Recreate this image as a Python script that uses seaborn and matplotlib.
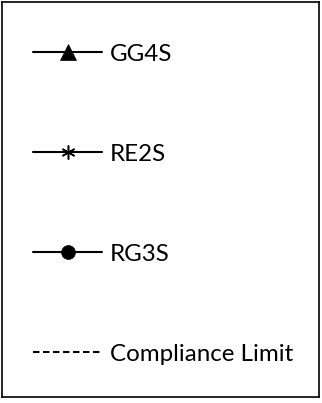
import matplotlib.pyplot as plt
import seaborn as sns
from matplotlib.lines import Line2D

# legend entries
labels = ['GG4S', 'RE2S', 'RG3S', 'Compliance Limit']
markers = ['^', (6, 2, 0), 'o', None]
marker_sizes = [11, 10, 10, 0]
linestyles = ['-', '-', '-', '--']

sns.set_style('white')
plt.rcParams['font.family'] = ['Lato', 'DejaVu Sans']

fig = plt.figure(figsize=(3.22, 4.03), dpi=100)
# empty axes whose spines act as the box around the legend
ax = fig.add_axes([0.0047, 0.0149, 0.986, 0.981])
ax.set_xticks([])
ax.set_yticks([])
for sp in ax.spines.values():
    sp.set_color('black')
    sp.set_linewidth(1.2)

handles = []
for m, ms, ls in zip(markers, marker_sizes, linestyles):
    h = Line2D([], [], color='black', linestyle=ls, linewidth=1.5,
               marker=m, markersize=ms,
               markeredgewidth=1.1 if m == (6, 2, 0) else 0.5,
               markerfacecolor='black', markeredgecolor='black')
    if ls == '--':
        h.set_dashes((3.1, 1.7))
    handles.append(h)

ax.legend(handles, labels, loc='upper left', bbox_to_anchor=(0, 0.974),
          fontsize=17.4, handlelength=2.85, handletextpad=0.3,
          labelspacing=3.27, borderpad=1.32, borderaxespad=0,
          frameon=False, labelcolor='black')

fig.savefig('out.png', dpi=100)
